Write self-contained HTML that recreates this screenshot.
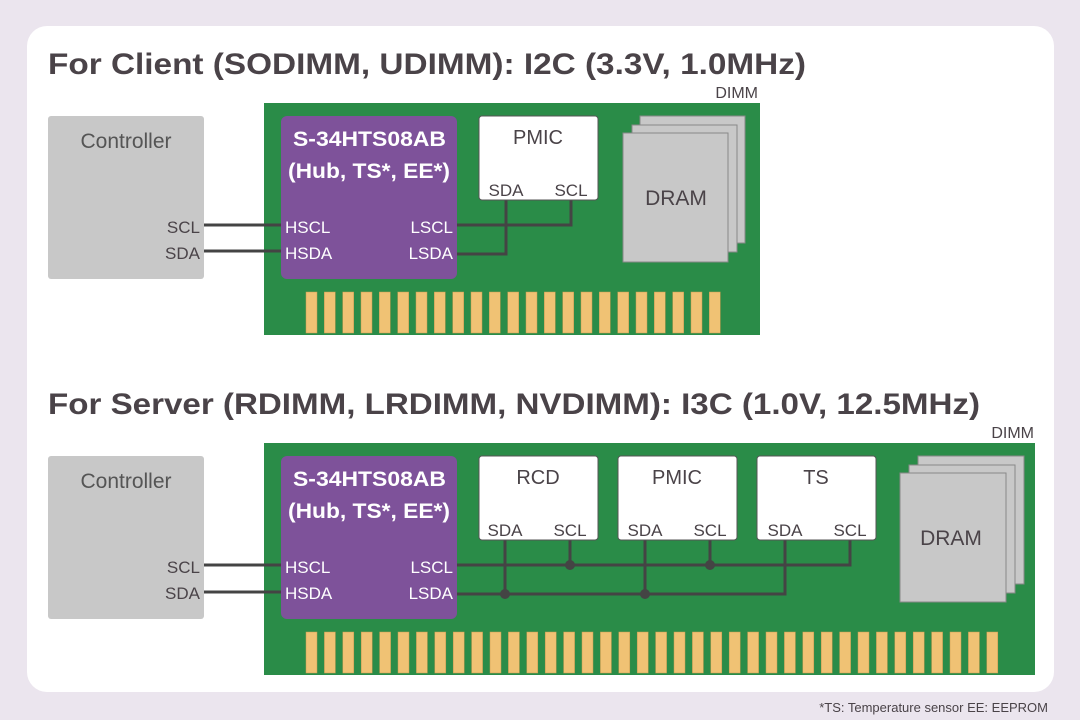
<!DOCTYPE html>
<html><head><meta charset="utf-8"><style>body{margin:0;background:#ebe5ee}svg{display:block}</style></head>
<body>
<svg width="1080" height="720" xmlns="http://www.w3.org/2000/svg" font-family="Liberation Sans, sans-serif">
<rect width="1080" height="720" fill="#ebe5ee"/>
<rect x="27" y="26" width="1027" height="666" rx="20" fill="#fff"/>
<g fill="#4a4348" font-weight="bold" font-size="30">
<text x="48" y="74" textLength="758" lengthAdjust="spacingAndGlyphs">For Client (SODIMM, UDIMM): I2C (3.3V, 1.0MHz)</text>
<text x="48" y="414" textLength="932" lengthAdjust="spacingAndGlyphs">For Server (RDIMM, LRDIMM, NVDIMM): I3C (1.0V, 12.5MHz)</text>
</g>
<g fill="#4a4348" font-size="16">
<text x="758" y="98" text-anchor="end">DIMM</text>
<text x="1034" y="438" text-anchor="end">DIMM</text>
</g>
<text x="1048" y="712" text-anchor="end" font-size="13" fill="#4a4348">*TS: Temperature sensor  EE: EEPROM</text>

<!-- TOP -->
<rect x="264" y="103" width="496" height="232" fill="#2a8c48"/>
<rect x="48" y="116" width="156" height="163" rx="3" fill="#c8c8c8"/>
<text x="126" y="148" text-anchor="middle" font-size="21" fill="#555">Controller</text>
<g font-size="17" fill="#4a4348" text-anchor="end"><text x="200" y="233">SCL</text><text x="200" y="259">SDA</text></g>
<g stroke="#444" stroke-width="3" fill="none">
<path d="M204 225H282M204 251H282"/>
<path d="M456 225H571V198M456 254H506V198"/>
</g>
<rect x="281" y="116" width="176" height="163" rx="6" fill="#7e529a"/>
<g fill="#fff" font-weight="bold" font-size="21"><text x="293" y="146" textLength="153" lengthAdjust="spacingAndGlyphs">S-34HTS08AB</text><text x="288" y="178" textLength="162" lengthAdjust="spacingAndGlyphs">(Hub, TS*, EE*)</text></g>
<g fill="#fff" font-size="17"><text x="285" y="233">HSCL</text><text x="285" y="259">HSDA</text>
<text x="453" y="233" text-anchor="end">LSCL</text><text x="453" y="259" text-anchor="end">LSDA</text></g>
<rect x="479" y="116" width="119" height="84" rx="3" fill="#fff" stroke="#555"/>
<g fill="#4a4348" text-anchor="middle"><text x="538" y="144" font-size="20">PMIC</text>
<text x="506" y="196" font-size="17">SDA</text><text x="571" y="196" font-size="17">SCL</text></g>
<g fill="#c8c8c8" stroke="#888"><rect x="640" y="116" width="105" height="127"/><rect x="632" y="125" width="105" height="127"/><rect x="623" y="133" width="105" height="129"/></g>
<text x="676" y="205" text-anchor="middle" font-size="21" fill="#4a4348">DRAM</text>
<g fill="#f0c274" stroke="#c89a50" stroke-width="0.5">
<rect x="306" y="292" width="11" height="41"/><rect x="324.3" y="292" width="11" height="41"/><rect x="342.7" y="292" width="11" height="41"/><rect x="361" y="292" width="11" height="41"/><rect x="379.3" y="292" width="11" height="41"/><rect x="397.7" y="292" width="11" height="41"/><rect x="416" y="292" width="11" height="41"/><rect x="434.3" y="292" width="11" height="41"/><rect x="452.7" y="292" width="11" height="41"/><rect x="471" y="292" width="11" height="41"/><rect x="489.3" y="292" width="11" height="41"/><rect x="507.7" y="292" width="11" height="41"/><rect x="526" y="292" width="11" height="41"/><rect x="544.3" y="292" width="11" height="41"/><rect x="562.7" y="292" width="11" height="41"/><rect x="581" y="292" width="11" height="41"/><rect x="599.3" y="292" width="11" height="41"/><rect x="617.7" y="292" width="11" height="41"/><rect x="636" y="292" width="11" height="41"/><rect x="654.3" y="292" width="11" height="41"/><rect x="672.7" y="292" width="11" height="41"/><rect x="691" y="292" width="11" height="41"/><rect x="709.3" y="292" width="11" height="41"/>
</g>

<!-- BOTTOM -->
<rect x="264" y="443" width="771" height="232" fill="#2a8c48"/>
<rect x="48" y="456" width="156" height="163" rx="3" fill="#c8c8c8"/>
<text x="126" y="488" text-anchor="middle" font-size="21" fill="#555">Controller</text>
<g font-size="17" fill="#4a4348" text-anchor="end"><text x="200" y="573">SCL</text><text x="200" y="599">SDA</text></g>
<g stroke="#444" stroke-width="3" fill="none">
<path d="M204 565H282M204 592H282"/>
<path d="M456 565H850V538M456 594H785V538M570 538V565M710 538V565M505 538V594M645 538V594"/>
</g>
<g fill="#444"><circle cx="570" cy="565" r="5"/><circle cx="710" cy="565" r="5"/><circle cx="505" cy="594" r="5"/><circle cx="645" cy="594" r="5"/></g>
<rect x="281" y="456" width="176" height="163" rx="6" fill="#7e529a"/>
<g fill="#fff" font-weight="bold" font-size="21"><text x="293" y="486" textLength="153" lengthAdjust="spacingAndGlyphs">S-34HTS08AB</text><text x="288" y="518" textLength="162" lengthAdjust="spacingAndGlyphs">(Hub, TS*, EE*)</text></g>
<g fill="#fff" font-size="17"><text x="285" y="573">HSCL</text><text x="285" y="599">HSDA</text>
<text x="453" y="573" text-anchor="end">LSCL</text><text x="453" y="599" text-anchor="end">LSDA</text></g>
<g fill="#fff" stroke="#555"><rect x="479" y="456" width="119" height="84" rx="3"/><rect x="618" y="456" width="119" height="84" rx="3"/><rect x="757" y="456" width="119" height="84" rx="3"/></g>
<g fill="#4a4348" text-anchor="middle" font-size="20"><text x="538" y="484">RCD</text><text x="677" y="484">PMIC</text><text x="816" y="484">TS</text></g>
<g fill="#4a4348" text-anchor="middle" font-size="17">
<text x="505" y="536">SDA</text><text x="570" y="536">SCL</text><text x="645" y="536">SDA</text><text x="710" y="536">SCL</text><text x="785" y="536">SDA</text><text x="850" y="536">SCL</text></g>
<g fill="#c8c8c8" stroke="#888"><rect x="918" y="456" width="106" height="128"/><rect x="909" y="465" width="106" height="128"/><rect x="900" y="473" width="106" height="129"/></g>
<text x="951" y="545" text-anchor="middle" font-size="21" fill="#4a4348">DRAM</text>
<g fill="#f0c274" stroke="#c89a50" stroke-width="0.5">
<rect x="306" y="632" width="11" height="41"/><rect x="324.4" y="632" width="11" height="41"/><rect x="342.8" y="632" width="11" height="41"/><rect x="361.2" y="632" width="11" height="41"/><rect x="379.6" y="632" width="11" height="41"/><rect x="398" y="632" width="11" height="41"/><rect x="416.4" y="632" width="11" height="41"/><rect x="434.8" y="632" width="11" height="41"/><rect x="453.2" y="632" width="11" height="41"/><rect x="471.6" y="632" width="11" height="41"/><rect x="490" y="632" width="11" height="41"/><rect x="508.4" y="632" width="11" height="41"/><rect x="526.8" y="632" width="11" height="41"/><rect x="545.2" y="632" width="11" height="41"/><rect x="563.6" y="632" width="11" height="41"/><rect x="582" y="632" width="11" height="41"/><rect x="600.4" y="632" width="11" height="41"/><rect x="618.8" y="632" width="11" height="41"/><rect x="637.2" y="632" width="11" height="41"/><rect x="655.6" y="632" width="11" height="41"/><rect x="674" y="632" width="11" height="41"/><rect x="692.4" y="632" width="11" height="41"/><rect x="710.8" y="632" width="11" height="41"/><rect x="729.2" y="632" width="11" height="41"/><rect x="747.6" y="632" width="11" height="41"/><rect x="766" y="632" width="11" height="41"/><rect x="784.4" y="632" width="11" height="41"/><rect x="802.8" y="632" width="11" height="41"/><rect x="821.2" y="632" width="11" height="41"/><rect x="839.6" y="632" width="11" height="41"/><rect x="858" y="632" width="11" height="41"/><rect x="876.4" y="632" width="11" height="41"/><rect x="894.8" y="632" width="11" height="41"/><rect x="913.2" y="632" width="11" height="41"/><rect x="931.6" y="632" width="11" height="41"/><rect x="950" y="632" width="11" height="41"/><rect x="968.4" y="632" width="11" height="41"/><rect x="986.8" y="632" width="11" height="41"/>
</g>
</svg>
</body></html>
